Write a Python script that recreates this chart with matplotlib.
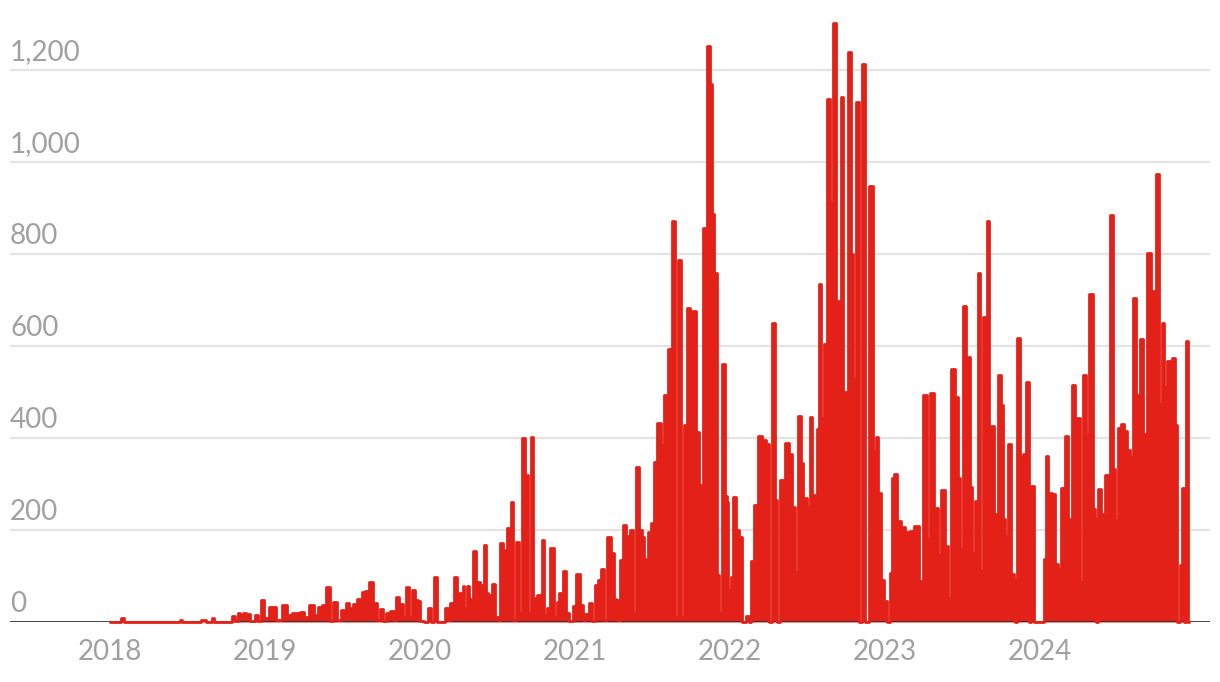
import matplotlib
matplotlib.use("Agg")
import matplotlib.pyplot as plt
import matplotlib.transforms as mtransforms
import numpy as np

# ---- data: (fraction of year, value) per calendar year ----
t2018 = [0.000, 0.065, 0.082, 0.098, 0.445, 0.456, 0.468, 0.580, 0.594, 0.613, 0.625, 0.652, 0.663, 0.675,
         0.780, 0.794, 0.815, 0.833, 0.850, 0.865, 0.891, 0.920, 0.949, 0.965, 0.981]
v2018 = [0, 0, 9, 0, 0, 5, 0, 0, 5, 5, 0, 0, 9, 0,
         0, 14, 3, 20, 15, 20, 18, 3, 16, 3, 48]

t2019 = [0.007, 0.050, 0.091, 0.130, 0.149, 0.207, 0.240, 0.265, 0.302, 0.330, 0.356, 0.382, 0.412, 0.431,
         0.453, 0.478, 0.502, 0.517, 0.530, 0.554, 0.582, 0.603, 0.620, 0.635, 0.661, 0.689, 0.711, 0.730,
         0.754, 0.772, 0.788, 0.821, 0.840, 0.857, 0.879, 0.898, 0.919, 0.937, 0.958, 0.981, 0.995]
v2019 = [8, 33, 5, 38, 15, 20, 22, 10, 38, 15, 32, 38, 77, 3,
         43, 5, 27, 10, 41, 30, 39, 49, 15, 65, 67, 88, 41, 5,
         28, 3, 20, 24, 5, 54, 39, 10, 76, 10, 70, 47, 45]

t2020 = [0.014, 0.040, 0.061, 0.079, 0.100, 0.117, 0.156, 0.174, 0.188, 0.206, 0.218, 0.229, 0.248, 0.264,
         0.272, 0.281, 0.295, 0.309, 0.324, 0.337, 0.350, 0.374, 0.400, 0.411, 0.421, 0.434, 0.453, 0.479,
         0.496, 0.511, 0.529, 0.550, 0.582, 0.597, 0.610, 0.632, 0.647, 0.669, 0.694, 0.709, 0.724, 0.744,
         0.772, 0.783, 0.797, 0.811, 0.828, 0.858, 0.873, 0.894, 0.909, 0.937, 0.952, 0.976, 0.996]
v2020 = [3, 0, 30, 0, 98, 0, 0, 30, 5, 41, 15, 98, 54, 62,
         20, 78, 30, 78, 50, 20, 154, 88, 81, 20, 167, 62, 58, 83,
         10, 5, 172, 156, 205, 261, 5, 173, 20, 401, 320, 20, 402, 53,
         58, 10, 179, 15, 30, 160, 10, 44, 62, 111, 20, 3, 35]

t2021 = [0.023, 0.045, 0.060, 0.077, 0.103, 0.121, 0.142, 0.159, 0.181, 0.196, 0.223, 0.245, 0.257, 0.271,
         0.283, 0.297, 0.321, 0.342, 0.350, 0.363, 0.384, 0.404, 0.428, 0.443, 0.454, 0.467, 0.480, 0.503,
         0.522, 0.546, 0.569, 0.589, 0.615, 0.637, 0.654, 0.680, 0.697, 0.714, 0.736, 0.749, 0.770, 0.791,
         0.809, 0.820, 0.841, 0.863, 0.880, 0.891, 0.906, 0.927, 0.941, 0.960, 0.975, 0.986, 0.999]
v2021 = [105, 37, 5, 17, 42, 3, 80, 91, 116, 5, 185, 149, 50, 47,
         5, 135, 210, 187, 60, 200, 20, 338, 201, 184, 137, 105, 195, 215,
         348, 433, 384, 494, 594, 871, 10, 786, 10, 429, 682, 293, 677, 414,
         298, 150, 856, 1252, 1170, 888, 759, 103, 20, 561, 275, 260, 69]

t2022 = [0.014, 0.035, 0.050, 0.072, 0.089, 0.100, 0.117, 0.132, 0.149, 0.170, 0.192, 0.222, 0.243, 0.261,
         0.282, 0.304, 0.312, 0.336, 0.351, 0.369, 0.394, 0.411, 0.429, 0.450, 0.470, 0.481, 0.494, 0.508,
         0.524, 0.534, 0.547, 0.558, 0.573, 0.584, 0.599, 0.616, 0.640, 0.655, 0.674, 0.695, 0.708, 0.726,
         0.739, 0.752, 0.771, 0.791, 0.805, 0.827, 0.842, 0.866, 0.885, 0.913, 0.939, 0.953, 0.966, 0.984]
v2022 = [97, 272, 199, 185, 0, 0, 14, 0, 133, 255, 405, 396, 388, 0,
         651, 265, 0, 308, 173, 390, 365, 250, 109, 448, 345, 233, 269, 250,
         446, 57, 276, 212, 420, 735, 444, 605, 1137, 913, 1303, 698, 697, 1141,
         501, 500, 1240, 801, 529, 1130, 0, 1213, 0, 947, 371, 402, 280, 91]

t2023 = [0.008, 0.023, 0.042, 0.057, 0.068, 0.096, 0.121, 0.147, 0.178, 0.208, 0.234, 0.261, 0.283, 0.307,
         0.332, 0.354, 0.376, 0.402, 0.418, 0.444, 0.466, 0.483, 0.498, 0.515, 0.531, 0.545, 0.563, 0.573,
         0.595, 0.610, 0.627, 0.642, 0.655, 0.673, 0.681, 0.698, 0.713, 0.728, 0.741, 0.763, 0.771, 0.789,
         0.810, 0.828, 0.841, 0.849, 0.866, 0.883, 0.901, 0.922, 0.939, 0.957, 0.972]
v2023 = [46, 0, 107, 313, 322, 219, 206, 195, 198, 209, 89, 494, 180, 498,
         247, 146, 287, 166, 53, 551, 489, 312, 158, 687, 293, 576, 293, 151,
         264, 759, 111, 663, 365, 872, 50, 427, 235, 213, 538, 471, 225, 188,
         388, 105, 94, 0, 617, 359, 366, 522, 0, 295, 0]

t2024 = [0.025, 0.032, 0.047, 0.064, 0.079, 0.089, 0.111, 0.133, 0.150, 0.176, 0.193, 0.204, 0.219, 0.236,
         0.254, 0.269, 0.288, 0.309, 0.335, 0.352, 0.363, 0.372, 0.387, 0.412, 0.430, 0.451, 0.467, 0.482,
         0.499, 0.520, 0.540, 0.557, 0.574, 0.596, 0.613, 0.634, 0.660, 0.677, 0.688, 0.707, 0.729, 0.746,
         0.764, 0.783, 0.800, 0.815, 0.832, 0.848, 0.863, 0.882, 0.897, 0.914, 0.927, 0.940, 0.953, 0.969]
v2024 = [0, 138, 360, 130, 280, 279, 127, 116, 292, 404, 225, 62, 516, 359,
         444, 87, 536, 406, 714, 246, 225, 0, 290, 235, 319, 109, 884, 333,
         221, 422, 430, 415, 373, 359, 705, 494, 616, 409, 360, 803, 720, 60,
         975, 475, 650, 511, 567, 478, 574, 428, 0, 123, 291, 0, 611, 0]

years = [2018, 2019, 2020, 2021, 2022, 2023, 2024]
y_ticks = [0, 200, 400, 600, 800, 1000, 1200]
y_tick_labels = ["0", "200", "400", "600", "800", "1,000", "1,200"]
x_tick_labels = ["2018", "2019", "2020", "2021", "2022", "2023", "2024"]

fracs = [t2018, t2019, t2020, t2021, t2022, t2023, t2024]
vals = [v2018, v2019, v2020, v2021, v2022, v2023, v2024]
t = np.concatenate([yr + np.array(f) for yr, f in zip(years, fracs)])
v = np.concatenate([np.array(x, dtype=float) for x in vals])

# ---- figure ----
W, H = 1220, 682
fig = plt.figure(figsize=(W / 100, H / 100), dpi=100)
ax = fig.add_axes([10 / W, 60 / H, 1200 / W, 607.2 / H])
ax.set_xlim(2018 - 100 / 154.9, 2018 + 1100 / 154.9)
ax.set_ylim(0, 1320)
for s in ax.spines.values():
    s.set_visible(False)
ax.set_xticks([])
ax.set_yticks([])

RED = "#e32119"
GRID = "#e3e3e3"
TXT = "#a0a0a0"
FONT = "Lato"

for yv in y_ticks[1:]:
    ax.axhline(yv, color=GRID, lw=1.6, zorder=1)

ax.fill_between(t, v, 0, step="mid", color=RED, lw=0, zorder=2)
ax.axhline(0, color="#333333", lw=2.0, zorder=3)
ax.plot(t, v, color=RED, lw=2.0, drawstyle="steps-mid", solid_joinstyle="round",
        solid_capstyle="round", zorder=4, clip_on=False)

trans_y = mtransforms.blended_transform_factory(ax.transAxes, ax.transData)
px = 1 / 0.46  # data units per pixel
for yv, lab in zip(y_ticks, y_tick_labels):
    ax.text(0.0, yv + 10 * px, lab, transform=trans_y, ha="left", va="baseline",
            fontsize=20, color=TXT, family=FONT, clip_on=False)

for yr, lab in zip(years, x_tick_labels):
    ax.text(yr, -38.5 * px, lab, ha="center", va="baseline",
            fontsize=20, color=TXT, family=FONT, clip_on=False)

fig.savefig("out.png", dpi=100, facecolor="white")
